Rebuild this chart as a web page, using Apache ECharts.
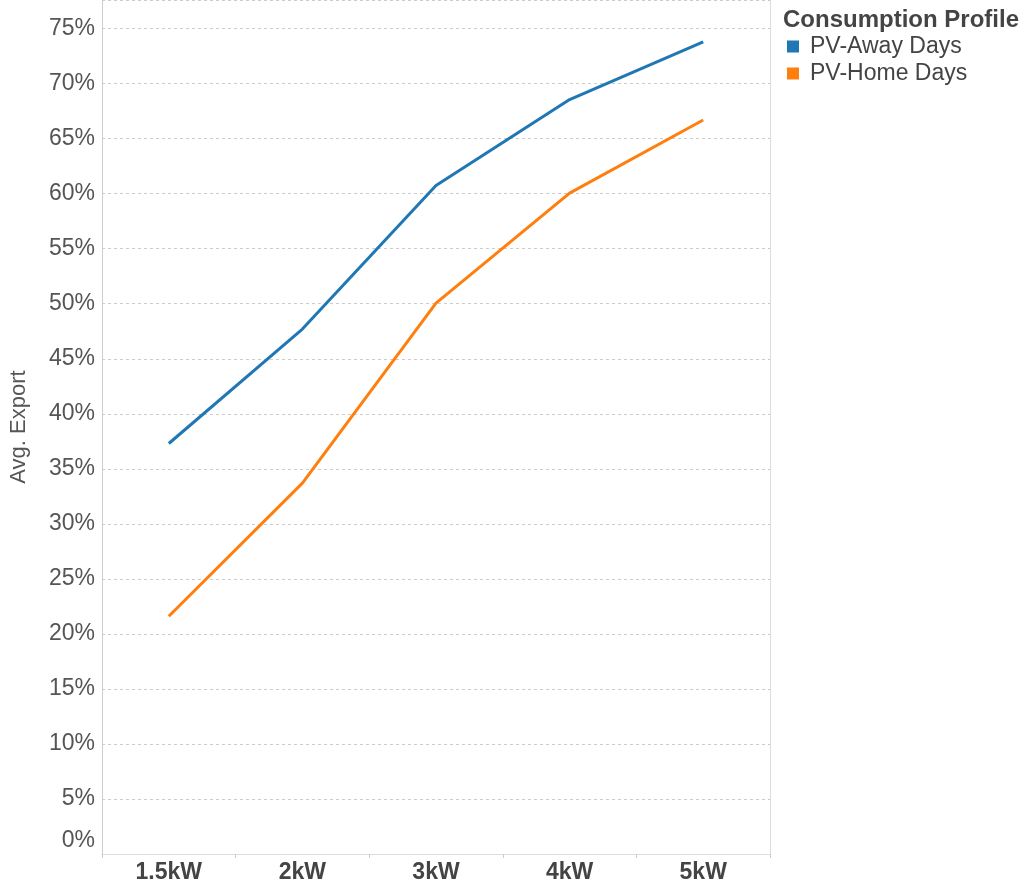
<!DOCTYPE html>
<html>
<head>
<meta charset="utf-8">
<script src="https://cdn.jsdelivr.net/npm/echarts@6/dist/echarts.min.js"></script>
<style>
html,body{margin:0;padding:0;background:#fff;}
#chart{width:1020px;height:886px;}
</style>
</head>
<body>
<div id="chart"></div>
<script>
const categories = ['1.5kW', '2kW', '3kW', '4kW', '5kW'];
const awayDays = [37.3, 47.7, 60.75, 68.55, 73.8];
const homeDays = [21.6, 33.7, 50.05, 60.05, 66.7];
const seriesNames = ['PV-Away Days', 'PV-Home Days'];
const legendTitle = 'Consumption Profile';
const yAxisName = 'Avg. Export';

const FONT = "'Liberation Sans', Arial, sans-serif";
const chart = echarts.init(document.getElementById('chart'), null, {renderer: 'canvas'});
chart.setOption({
  animation: false,
  textStyle: {fontFamily: FONT},
  color: ['#1f77b4', '#ff7f0e'],
  title: {
    text: legendTitle,
    left: 778, top: 3,
    textStyle: {fontFamily: FONT, fontSize: 24, fontWeight: 'bold', color: '#444'}
  },
  legend: {
    orient: 'vertical',
    left: 782, top: 30,
    icon: 'rect',
    itemWidth: 12, itemHeight: 12,
    itemGap: 4,
    textStyle: {fontFamily: FONT, fontSize: 23, color: '#444', padding: [0, 0, 0, 6]},
    data: seriesNames
  },
  grid: {left: 100, right: 250, top: 0, bottom: 32, containLabel: false},
  xAxis: [{
    type: 'category',
    data: categories,
    boundaryGap: true,
    axisLine: {show: false},
    axisTick: {show: true, length: 4, lineStyle: {color: '#ccc'}},
    axisLabel: {fontFamily: FONT, fontSize: 23, fontWeight: 'bold', color: '#444', margin: 7}
  }, {
    type: 'category',
    position: 'top',
    data: categories,
    axisLine: {show: true, lineStyle: {color: '#ddd'}},
    axisTick: {show: false},
    axisLabel: {show: false}
  }],
  yAxis: [{
    type: 'value',
    min: 0, max: 77.6, interval: 5,
    name: yAxisName,
    nameLocation: 'middle',
    nameGap: 72,
    nameTextStyle: {fontFamily: FONT, fontSize: 22, color: '#555'},
    axisLine: {show: true, lineStyle: {color: '#ccc'}},
    axisTick: {show: false},
    showMaxLabel: false,
    splitLine: {show: true, lineStyle: {color: '#ccc', type: [3, 3], width: 1}},
    axisLabel: {
      fontFamily: FONT, fontSize: 23, color: '#555', margin: 7,
      formatter: function (v) {
        if (Math.abs(v % 5) > 1e-6) return '';
        if (v === 0) return '{z|0%}';
        return v + '%';
      },
      rich: {z: {fontFamily: FONT, fontSize: 23, color: '#555', padding: [0, 0, 26, 0]}}
    }
  }, {
    type: 'value',
    position: 'right',
    min: 0, max: 77.6, interval: 5,
    axisLine: {show: true, lineStyle: {color: '#ddd'}},
    axisTick: {show: false},
    axisLabel: {show: false},
    splitLine: {show: false}
  }],
  series: [{
    name: seriesNames[0],
    type: 'line',
    data: awayDays,
    symbol: 'none',
    lineStyle: {width: 3, color: '#1f77b4'},
    itemStyle: {color: '#1f77b4'}
  }, {
    name: seriesNames[1],
    type: 'line',
    data: homeDays,
    symbol: 'none',
    lineStyle: {width: 3, color: '#ff7f0e'},
    itemStyle: {color: '#ff7f0e'}
  }]
});
</script>
</body>
</html>
